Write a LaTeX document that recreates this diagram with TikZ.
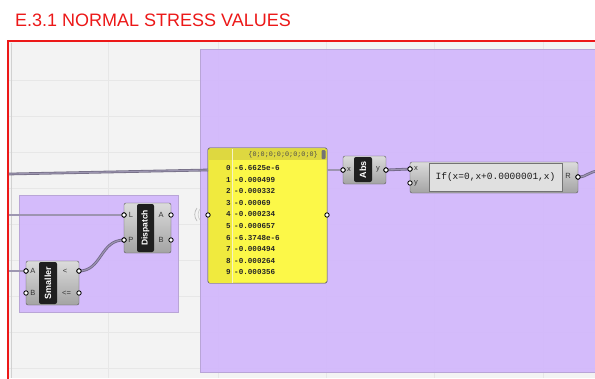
\documentclass[tikz,border=0pt]{standalone}
\usepackage{xcolor}
\usepackage{fontspec}
\setmainfont{Liberation Sans}
\setsansfont{Liberation Sans}
\setmonofont{Liberation Mono}
\usepackage{tikz}
\usetikzlibrary{positioning,calc}

\definecolor{canvas}{RGB}{243,243,243}
\definecolor{gridc}{RGB}{231,231,231}
\definecolor{grpfill}{RGB}{210,183,252}
\definecolor{grpdraw}{RGB}{185,165,215}
\definecolor{redframe}{RGB}{236,24,24}
\definecolor{panelyel}{RGB}{252,248,72}
\definecolor{panelidx}{RGB}{240,234,62}
\definecolor{panelhead}{RGB}{222,216,64}
\definecolor{wirec}{RGB}{95,88,115}
\definecolor{wiremid}{RGB}{165,157,185}

\begin{document}
\begin{tikzpicture}[x=1pt,y=-1pt,
  comp/.style={draw=black!65, rounded corners=2pt, top color=black!14, bottom color=black!36, inner sep=0pt},
  bar/.style={fill=black!88, rounded corners=2pt, inner sep=0pt},
  barlabel/.style={text=white, font=\bfseries\fontsize{9}{9}\selectfont, rotate=90},
  port/.style={font=\fontsize{7.5}{8}\selectfont, text=black!80, inner sep=0pt},
  grip/.style={circle, draw=black, fill=white, inner sep=0pt, minimum size=4.4pt, line width=0.8pt},
  wire/.style={draw=wirec, double=wiremid, double distance=1.1pt, line width=0.8pt, opacity=0.85},
  grp/.style={fill=grpfill, draw=grpdraw, line width=0.7pt, fill opacity=0.93},
  cell/.style={font=\ttfamily\bfseries\fontsize{7.6}{8}\selectfont, text=black!85, inner sep=0pt}]
\useasboundingbox (0,0) rectangle (595,378);
\fill[white] (0,0) rectangle (595,378);
\fill[canvas] (9,42) rectangle (595,378);
\foreach \gx in {108,218,326,434,543} \draw[gridc] (\gx,42) -- (\gx,378);
\foreach \gy in {80,116,152,188,224,260,296,332,368} \draw[gridc] (9,\gy) -- (595,\gy);
\draw[black!18] (11,43) -- (11,378);
\draw[redframe, line width=2pt] (8,380) -- (8,41) -- (597,41);
\node[anchor=base west, inner sep=0pt, text=redframe, font=\fontsize{18}{20}\selectfont] (title) at (15,26) {E.3.1 NORMAL STRESS VALUES};

\draw[grp] (200,49) rectangle (602,372);
\draw[grp] (19,195) rectangle (178,312);

% free wire ends
\coordinate (srcP) at (9,174);
\coordinate (srcL) at (9,215);
\coordinate (srcA) at (9,271);
\coordinate (pnlL) at (208,170);
\coordinate (pnlR) at (327,170);
\coordinate (dest) at (600,171);

% Smaller
\node[comp, minimum width=53pt, minimum height=44pt] (sm) at (52.5,283) {};
\node[bar, minimum width=18pt, minimum height=42pt] (smbar) at (48,283) {};
\node[barlabel] at (smbar) {Smaller};
\node[port] at (33,271) {A};
\node[port] at (33,293) {B};
\node[port] at (65,271) {<};
\node[port] at (66.5,293) {<=};
\node[grip] (smA) at (26,271) {};
\node[grip] (smB) at (26,293) {};
\node[grip] (smLt) at (79,271) {};
\node[grip] (smLe) at (79,293) {};

% Dispatch
\node[comp, minimum width=47pt, minimum height=50pt] (dp) at (147.5,228) {};
\node[bar, minimum width=17pt, minimum height=48pt] (dpbar) at (145.5,228) {};
\node[barlabel, font=\bfseries\fontsize{8.5}{9}\selectfont] at (dpbar) {Dispatch};
\node[port] at (131,215) {L};
\node[port] at (131,240) {P};
\node[port] at (161,215) {A};
\node[port] at (161,240) {B};
\node[grip] (dpL) at (124,215) {};
\node[grip] (dpP) at (124,240) {};
\node[grip] (dpA) at (171,215) {};
\node[grip] (dpB) at (171,240) {};

% panel
\node[draw=black!60, fill=panelyel, rounded corners=2pt, minimum width=119pt, minimum height=135pt, inner sep=0pt] (pnl) at (267.5,215.5) {};
\fill[panelidx] (209,160) rectangle (232,282.5);
\fill[panelhead] (209,148.5) rectangle (326.5,160);
\draw[white!70!panelhead] (232.5,148.5) -- (232.5,282.5);
\draw[black!60, rounded corners=2pt] (pnl.north west) rectangle (pnl.south east);
\fill[black!55, rounded corners=1pt] (321.5,150) rectangle (325.5,159);
\node[cell, anchor=east, text=black!70, font=\ttfamily\fontsize{6.8}{7}\selectfont] (hdr) at (318,154.5) {\{0;0;0;0;0;0;0;0\}};
\foreach \i/\v in {0/-6.6625e-6, 1/-0.000499, 2/-0.000332, 3/-0.00069, 4/-0.000234,
  5/-0.000657, 6/-6.3748e-6, 7/-0.000494, 8/-0.000264, 9/-0.000356} {
  \node[cell, anchor=east] (idx\i) at (231,{168+\i*11.6}) {\i};
  \node[cell, anchor=west] (val\i) at (234,{168+\i*11.6}) {\v};
}
\node[grip] (pnlin) at (208,215) {};
\node[grip] (pnlout) at (327,215) {};
\draw[black!30, line width=0.6pt] (197,208) .. controls (194,212) and (194,217) .. (197,221);
\draw[black!20, line width=0.6pt] (200,209) .. controls (197.5,212) and (197.5,217) .. (200,220);

% Abs
\node[comp, minimum width=43pt, minimum height=28pt] (abs) at (364.5,170) {};
\node[bar, minimum width=18pt, minimum height=25pt] (absbar) at (363,169.5) {};
\node[barlabel] at (absbar) {Abs};
\node[port] at (349,170) {x};
\node[port] at (378,169) {y};
\node[grip] (absx) at (343,170) {};
\node[grip] (absy) at (386,170) {};

% If expression
\node[comp, minimum width=168pt, minimum height=31pt] (ife) at (494,177.5) {};
\node[draw=black!55, fill=black!12, minimum width=133pt, minimum height=28pt, inner sep=0pt,
  font=\ttfamily\fontsize{9.5}{10}\selectfont, text=black!90] (ifbox) at (495.5,177.5) {If(x=0,x+0.0000001,x)};
\node[port] at (416,169) {x};
\node[port] at (416,183) {y};
\node[port] at (568,176) {R};
\node[grip] (ifx) at (410,169) {};
\node[grip] (ify) at (410,183) {};
\node[grip] (ifR) at (578,177) {};

\draw[wire] (srcP) -- (pnlL);
\draw[wire] (srcL) -- (dpL.center);
\draw[wire] (srcA) -- (smA.center);
\draw[wire] (smLt.center) .. controls (102,271) and (100,240) .. (dpP.center);
\draw[wire] (pnlR) -- (absx.center);
\draw[wire] (absy.center) -- (ifx.center);
\draw[wire] (ifR.center) .. controls (588,177) and (588,171) .. (dest);
\foreach \g in {smA,smLt,dpL,dpP,absx,absy,ifx,ifR} \node[grip] at (\g) {};
\end{tikzpicture}
\end{document}
